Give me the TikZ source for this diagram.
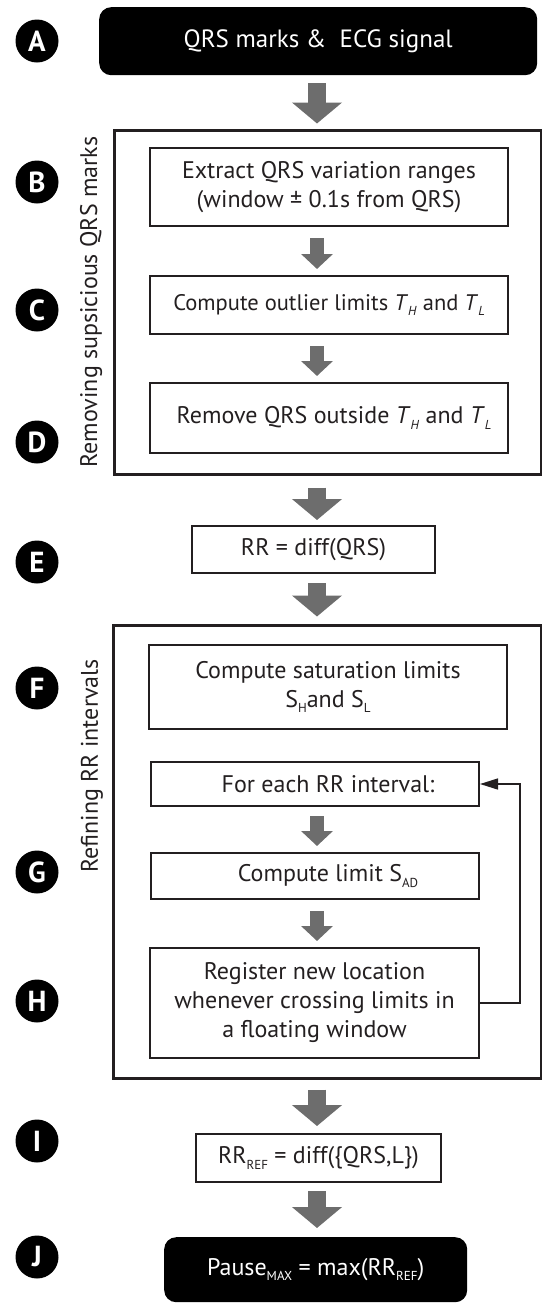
\documentclass[tikz,border=0pt]{standalone}
\usepackage{fontspec}
\setmainfont{PT Sans}
\usetikzlibrary{arrows.meta,calc}
\definecolor{ink}{HTML}{231F20}
\definecolor{arrowgray}{HTML}{6D6D6D}
\newcommand\subx[1]{\raisebox{-0.45ex}{\fontsize{13}{13}\selectfont #1}}
\begin{document}
\begin{tikzpicture}[x=1pt,y=-1pt,
  font=\fontsize{24}{29}\selectfont, text=ink,
  letter/.style={circle, fill=black, minimum size=43pt, inner sep=0pt, text=white,
    font=\fontsize{29}{29}\selectfont\bfseries},
  box/.style={draw=ink, line width=2pt, anchor=north west, inner sep=0pt, align=center},
  group/.style={draw=ink, line width=3pt, anchor=north west, inner sep=0pt},
  term/.style={fill=black, rounded corners=12pt, anchor=north west, inner sep=0pt, text=white},
  bigarrow/.style={draw=arrowgray, line width=18pt, -{Triangle[width=49pt,length=21pt]}},
  smallarrow/.style={draw=arrowgray, line width=14pt, -{Triangle[width=31pt,length=15pt]}},
  feedback/.style={draw=ink, line width=1.5pt, -{Triangle[width=11pt,length=18pt]}},
  side/.style={rotate=90, font=\fontsize{24}{26}\selectfont}
]
\useasboundingbox (0,0) rectangle (541,1304);
\coordinate (ax) at (317,0);

% letters
\node[letter] (lA) at (37,41) {A};
\node[letter] (lB) at (37,182) {B};
\node[letter] (lC) at (37,310) {C};
\node[letter] (lD) at (37,442) {D};
\node[letter] (lE) at (37,562) {E};
\node[letter] (lF) at (37,688) {F};
\node[letter] (lG) at (37,872) {G};
\node[letter] (lH) at (37,1001) {H};
\node[letter] (lI) at (37,1141) {I};
\node[letter] (lJ) at (37,1257) {J};

% top terminal
\node[term, minimum width=438pt, minimum height=68pt, font=\fontsize{25}{29}\selectfont] (A) at (99,7) {QRS marks \&\ \ ECG signal};

% group 1
\node[group, minimum width=427pt, minimum height=344pt] (G1) at (113,129) {};
\node[side] (L1) at (91,302) {Removing supsicious QRS marks};
\node[box, minimum width=358pt, minimum height=78pt] (B) at (149,147)
  {Extract QRS variation ranges\\(window ± 0.1s from QRS)};
\node[box, minimum width=358pt, minimum height=58pt, font=\fontsize{22.5}{29}\selectfont] (C) at (149,275)
  {Compute outlier limits \textit{T}\subx{\textit{H}} and \textit{T}\subx{\textit{L}}};
\node[box, minimum width=358pt, minimum height=70pt] (D) at (149,382) {};
\node (Dt) at ($(D.center)+(5,0)$) {Remove QRS outside \textit{T}\subx{\textit{H}} and \textit{T}\subx{\textit{L}}};

% E
\node[box, minimum width=243pt, minimum height=47pt] (E) at (191,525) {RR = diff(QRS)};

% group 2
\node[group, minimum width=428pt, minimum height=453pt] (G2) at (112,624) {};
\node[side] (L2) at (92,766) {Refining RR intervals};
\node[box, minimum width=358pt, minimum height=84pt] (F) at (148,644)
  {Compute saturation limits\\S\subx{H}and S\subx{L}};
\node[box, minimum width=328pt, minimum height=44pt] (FE) at (150,761) {};
\node (FEt) at ($(FE.center)+(13,0)$) {For each RR interval:};
\node[box, minimum width=328pt, minimum height=46pt] (G) at (150,852) {};
\node (Gt) at ($(G.center)+(13,0)$) {Compute limit S\subx{AD}};
\node[box, minimum width=329pt, minimum height=110pt] (H) at (149,947)
  {Register new location\\whenever crossing limits in\\a floating window};

% I and J
\node[box, minimum width=245pt, minimum height=48pt] (I) at (195,1133)
  {RR\subx{REF} = diff(\{QRS,L\})};
\node[term, minimum width=303pt, minimum height=65pt] (J) at (164,1237)
  {Pause\subx{MAX} = max(RR\subx{REF})};

% big arrows
\draw[bigarrow] ($(ax |- A.south)+(0,8)$) -- ($(ax |- G1.north)+(0,-5.5)$);
\draw[bigarrow] ($(ax |- G1.south)+(0,11.5)$) -- ($(ax |- E.north)+(0,-5)$);
\draw[bigarrow] ($(ax |- E.south)+(0,9)$) -- ($(ax |- G2.north)+(0,-7.5)$);
\draw[bigarrow] ($(ax |- G2.south)+(0,9.5)$) -- ($(ax |- I.north)+(0,-7)$);
\draw[bigarrow] ($(ax |- I.south)+(0,8)$) -- ($(ax |- J.north)+(0,-9)$);

% small arrows
\draw[smallarrow] ($(ax |- B.south)+(0,11)$) -- ($(ax |- C.north)+(0,-6)$);
\draw[smallarrow] ($(ax |- C.south)+(0,11)$) -- ($(ax |- D.north)+(0,-6)$);
\draw[smallarrow] ($(ax |- FE.south)+(0,9)$) -- ($(ax |- G.north)+(0,-6)$);
\draw[smallarrow] ($(ax |- G.south)+(0,11)$) -- ($(ax |- H.north)+(0,-6)$);

% feedback loop
\draw[feedback] (H.east) -- ++(40,0) |- (FE.east);
\end{tikzpicture}
\end{document}
